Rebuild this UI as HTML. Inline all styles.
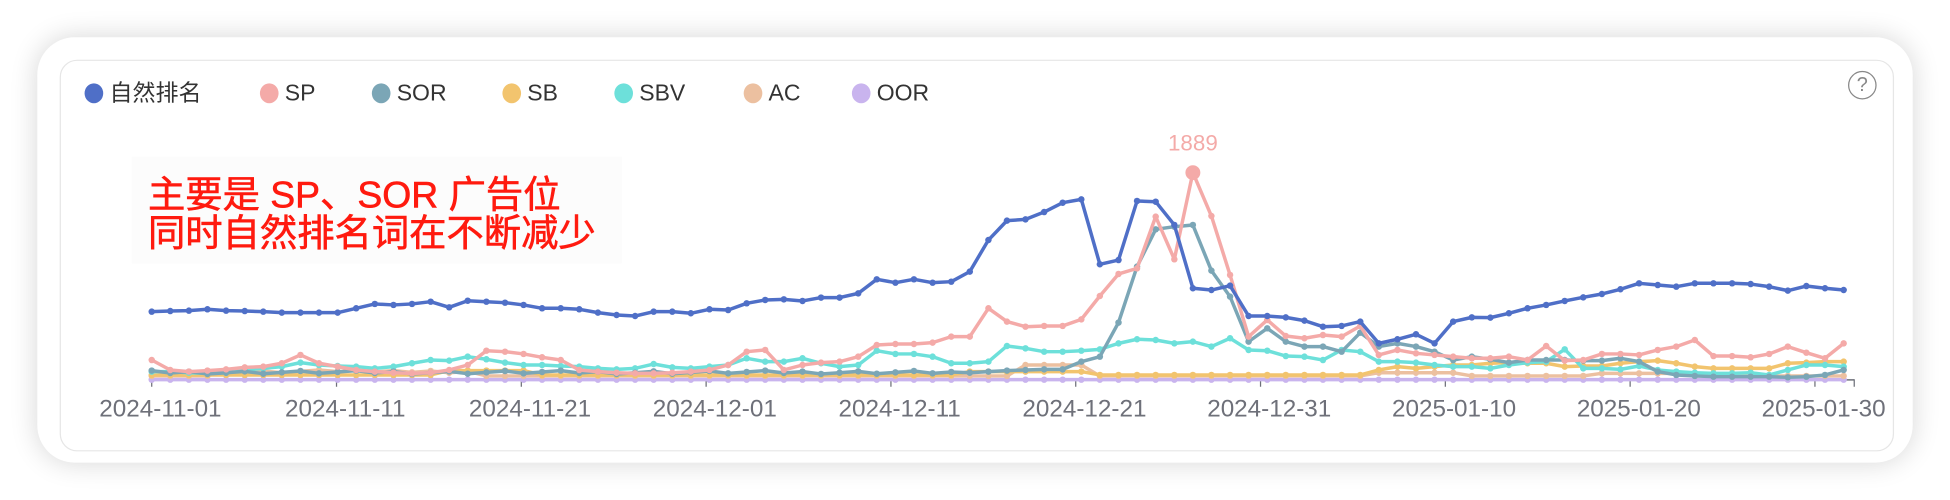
<!DOCTYPE html>
<html><head><meta charset="utf-8">
<style>
html,body{margin:0;padding:0;background:#fff;}
body{width:1950px;height:500px;overflow:hidden;position:relative;font-family:"Liberation Sans","Noto Sans CJK SC",sans-serif;}
#wrap{position:absolute;left:0;top:0;width:1568px;height:402px;transform:scale(1.24362);transform-origin:0 0;}
.card{position:absolute;left:30px;top:30px;width:1508px;height:342px;background:#fff;border-radius:30px;box-shadow:0 0 22px rgba(0,0,0,0.16);}
.panel{position:absolute;left:48px;top:48px;width:1473px;height:313px;border:1.5px solid #e6e6e6;border-radius:14px;background:#fff;}
.lg{position:absolute;top:64px;font-size:18.5px;color:#333;line-height:22px;white-space:nowrap;}
.lg i{display:inline-block;width:15px;height:16px;border-radius:50%;vertical-align:-2px;margin-right:5px;}
.note{position:absolute;left:106px;top:126px;width:394px;height:86px;background:#fcfcfc;}
.note div{position:absolute;left:13px;color:#ff1a0f;font-size:30px;line-height:30px;white-space:nowrap;-webkit-text-stroke:0.5px #ff1a0f;}
.help{position:absolute;left:1486px;top:57px;width:21px;height:21px;border:1.5px solid #888;border-radius:50%;color:#888;font-size:16px;text-align:center;line-height:21px;}
svg{position:absolute;left:0;top:0;}
</style></head><body>
<div id="wrap">
<div class="card"></div>
<div class="panel"></div>
<div class="lg" style="left:68px"><i style="background:#4f6fc7"></i>自然排名</div>
<div class="lg" style="left:209px"><i style="background:#f4aaa8"></i>SP</div>
<div class="lg" style="left:299px"><i style="background:#7ba6b6"></i>SOR</div>
<div class="lg" style="left:404px"><i style="background:#f2c46e"></i>SB</div>
<div class="lg" style="left:494px"><i style="background:#6de0da"></i>SBV</div>
<div class="lg" style="left:598px"><i style="background:#ecc0a0"></i>AC</div>
<div class="lg" style="left:685px"><i style="background:#c9b4ee"></i>OOR</div>
<div class="help">?</div>
<div class="note"><div style="top:17px">主要是 SP、SOR 广告位</div><div style="top:48px">同时自然排名词在不断减少</div></div>
<svg id="ch" width="1568" height="402"></svg>
</div>
<script>
var blue=[935,933,932,928,932,933,935,938,938,938,938,925,912,915,912,905,922,902,905,908,915,925,925,928,938,945,948,935,935,940,928,930,910,900,898,903,893,893,880,838,848,838,848,845,
815,720,662,658,636,608,598,793,780,603,605,675,865,870,857,948,948,952,962,980,978,965,1030,1018,1003,1030,965,952,953,940,925,915,903,892,882,868,850,855,860,850,850,850,852,860,872,858,865,870];
var sp=[1080,1110,1115,1112,1108,1102,1100,1090,1065,1090,1100,1110,1115,1118,1120,1118,1110,1095,1052,1055,1062,1072,1080,1110,1115,1118,1120,1120,1118,1115,1110,1095,1055,1050,1110,1095,1088,1085,1070,1035,1032,1032,1028,1010,
1010,925,965,980,978,978,958,888,822,805,650,778,518,648,825,1010,960,1008,1015,1005,1010,978,1065,1050,1060,1065,1070,1075,1075,1070,1080,1038,1082,1080,1062,1062,1065,1050,1040,1020,1068,1068,1072,1062,1040,1058,1075,1030];
var sor=[];for(var i=0;i<44;i++)sor.push(1115+((i*7)%11)-3);
sor=sor.concat([1118,1115,1112,1110,1108,1108,1085,1070,968,800,688,680,675,812,890,1025,985,1025,1040,1040,1055,998,1040,1030,1040,1055,1080,1070,1078,1088,1080,1080,1080,1082,1082,1075,1085,1115,1125,1128,1130,1130,1130,1130,1132,1130,1125,1110]);
var sbv=[1115,1115,1118,1120,1118,1110,1105,1100,1088,1095,1098,1100,1105,1100,1090,1080,1082,1070,1078,1088,1095,1095,1098,1100,1105,1108,1105,1092,1102,1105,1100,1095,1075,1085,1085,1075,1090,1100,1095,1052,1062,1062,1070,1090,
1090,1085,1038,1045,1055,1055,1052,1048,1030,1018,1020,1030,1025,1040,1015,1050,1052,1068,1070,1080,1050,1055,1085,1085,1088,1095,1100,1100,1105,1095,1088,1085,1048,1105,1105,1108,1098,1110,1115,1118,1120,1120,1118,1125,1110,1095,1095,1100];
var sb=[];for(i=0;i<92;i++){var v=1125;if(i>=16&&i<=20)v=1112;if(i>=44&&i<=50)v=1115;if(i>=66)v=[1110,1100,1105,1100,1095,1095,1090,1088,1090,1090,1100,1098,1098,1090,1085,1082,1090,1100,1105,1105,1105,1105,1090,1088,1085,1085][i-66];sb.push(v);}
var ac=[];for(i=0;i<92;i++){var v=1128;if(i>=4&&i<=17)v=1110+((i*5)%9);if(i>=47&&i<=50)v=1095;if(i>=66&&i<=70)v=1118;if(i>=78&&i<=82)v=1120;ac.push(v);}
var oor=[];for(i=0;i<92;i++)oor.push(1139);
var S=[[oor,'#c9b4ee'],[ac,'#ecc0a0'],[sb,'#f2c46e'],[sbv,'#6de0da'],[sor,'#7ba6b6'],[sp,'#f4aaa8'],[blue,'#4f6fc7']];
function X(i){return 122+i*14.95;}function Y(z){return z/3.731;}
var h='';
var ticks=['2024-11-01','2024-11-11','2024-11-21','2024-12-01','2024-12-11','2024-12-21','2024-12-31','2025-01-10','2025-01-20','2025-01-30'];
h+='<line x1="122" y1="305.5" x2="1491" y2="305.5" stroke="#6e7079" stroke-width="1.2"/>';
for(i=0;i<10;i++){var tx=122+i*148.6;h+='<line x1="'+tx+'" y1="305" x2="'+tx+'" y2="311" stroke="#6e7079"/>';h+='<text x="'+(tx+7)+'" y="335" text-anchor="middle" font-size="19.5" fill="#6e7079" font-family="Liberation Sans, sans-serif">'+ticks[i]+'</text>';}
h+='<line x1="1491" y1="305" x2="1491" y2="311" stroke="#6e7079"/>';
S.forEach(function(s){var d=s[0],c=s[1],p='';for(var k=0;k<d.length;k++)p+=X(k).toFixed(1)+','+Y(d[k]).toFixed(1)+' ';
h+='<polyline points="'+p+'" fill="none" stroke="'+c+'" stroke-width="2.8" stroke-linejoin="round"/>';
for(k=0;k<d.length;k++)h+='<circle cx="'+X(k).toFixed(1)+'" cy="'+Y(d[k]).toFixed(1)+'" r="2.6" fill="'+c+'"/>';});
h+='<circle cx="'+X(56)+'" cy="'+Y(518)+'" r="6" fill="#f4aaa8"/>';
h+='<text x="'+X(56)+'" y="121" text-anchor="middle" font-size="18" fill="#f4aaa8" font-family="Liberation Sans, sans-serif">1889</text>';
document.getElementById('ch').innerHTML=h;
</script>
</body></html>
